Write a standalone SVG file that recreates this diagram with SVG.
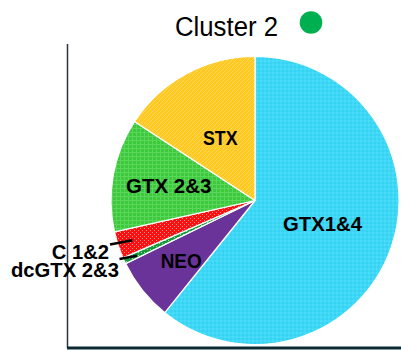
<svg xmlns="http://www.w3.org/2000/svg" width="401" height="350" viewBox="0 0 401 350">
<style>
.lbl{font-family:"Liberation Sans",Arial,sans-serif;font-weight:bold;font-size:21px;fill:#000}
.title{font-family:"Liberation Sans",Arial,sans-serif;font-size:27px;fill:#000}
.slice{stroke:#fff;stroke-width:1.2;stroke-linejoin:round}
.lead{stroke:#000;stroke-width:2.5;fill:none}
</style>
<defs>
<pattern id="pBlue" width="4" height="4" patternUnits="userSpaceOnUse">
<rect width="4" height="4" fill="#3ED8F6"/>
<rect width="2" height="2" fill="#4ADCF8"/>
<rect x="2" y="2" width="2" height="2" fill="#36D2F2"/>
</pattern>
<pattern id="pYellow" width="4" height="4" patternUnits="userSpaceOnUse">
<rect width="4" height="4" fill="#FFC91F"/>
<path d="M0,4 L4,0" stroke="#FFD65A" stroke-width="1"/>
</pattern>
<pattern id="pGreen" width="4" height="4" patternUnits="userSpaceOnUse">
<rect width="4" height="4" fill="#3EC83E"/>
<rect width="1" height="4" fill="#5AD65A"/>
<rect width="4" height="1" fill="#5AD65A"/>
</pattern>
<pattern id="pRed" width="4" height="4" patternUnits="userSpaceOnUse">
<rect width="4" height="4" fill="#FF1010"/>
<rect width="1" height="1" fill="#FF9090"/>
<rect x="2" y="2" width="1" height="1" fill="#FF9090"/>
</pattern>
<pattern id="pDark" width="3" height="3" patternUnits="userSpaceOnUse">
<rect width="3" height="3" fill="#169A3E"/>
<rect width="1" height="1" fill="#9FE0A8"/>
</pattern>
</defs>
<text class="title" x="175" y="36" textLength="103" lengthAdjust="spacingAndGlyphs">Cluster 2</text>
<circle cx="311" cy="22.5" r="11.3" fill="#00B050"/>
<g id="axes">
<line x1="67.5" y1="44" x2="67.5" y2="348" stroke="#2A3640" stroke-width="1.5"/>
<line x1="67" y1="348" x2="401" y2="348" stroke="#0B2A33" stroke-width="3"/>
</g>
<g id="pie">
<g id="gtx14"><path class="slice" fill="url(#pBlue)" d="M255,200.5 L255,56.5 A144,144 0 1 1 164.8,312.7 Z"/></g>
<g id="neo"><path class="slice" fill="#6A3399" d="M255,200.5 L164.8,312.7 A144,144 0 0 1 125.6,263.6 Z"/></g>
<g id="dcgtx23"><path class="slice" fill="url(#pDark)" d="M255,200.5 L125.6,263.6 A144,144 0 0 1 122.9,257.9 Z"/></g>
<g id="c12"><path class="slice" fill="url(#pRed)" d="M255,200.5 L122.9,257.9 A144,144 0 0 1 114.5,231.9 Z"/></g>
<g id="gtx23"><path class="slice" fill="url(#pGreen)" d="M255,200.5 L114.5,231.9 A144,144 0 0 1 134.5,121.6 Z"/></g>
<g id="stx"><path class="slice" fill="url(#pYellow)" d="M255,200.5 L134.5,121.6 A144,144 0 0 1 255,56.5 Z"/></g>
</g>
<g id="connectors">
<line class="lead" x1="110" y1="244.5" x2="132.5" y2="240.3"/>
<line class="lead" x1="119.5" y1="259" x2="137" y2="255.7"/>
</g>
<g id="labels">
<text class="lbl" x="203" y="145" textLength="34.5" lengthAdjust="spacingAndGlyphs">STX</text>
<text class="lbl" x="126" y="192.7" textLength="85.5" lengthAdjust="spacingAndGlyphs">GTX 2&amp;3</text>
<text class="lbl" x="283" y="231" textLength="79" lengthAdjust="spacingAndGlyphs">GTX1&amp;4</text>
<text class="lbl" x="160.7" y="267.7" textLength="41" lengthAdjust="spacingAndGlyphs">NEO</text>
<text class="lbl" x="51.7" y="259" textLength="57.3" lengthAdjust="spacingAndGlyphs">C 1&amp;2</text>
<text class="lbl" x="11" y="277.3" textLength="108" lengthAdjust="spacingAndGlyphs">dcGTX 2&amp;3</text>
</g>
</svg>
